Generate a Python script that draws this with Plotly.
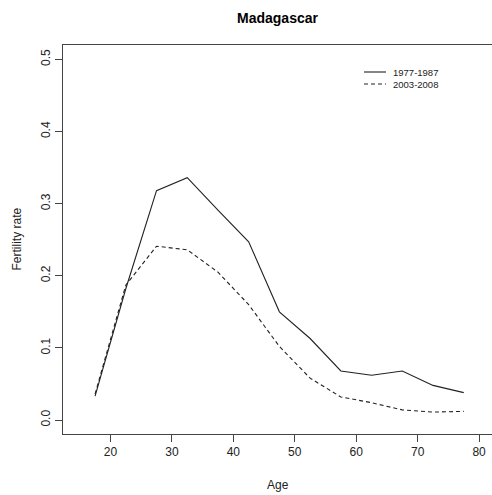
import plotly.graph_objects as go

ages = [17.5, 22.5, 27.5, 32.5, 37.5, 42.5, 47.5, 52.5, 57.5, 62.5, 67.5, 72.5, 77.5]
rate_1977_1987 = [0.033, 0.182, 0.318, 0.336, 0.291, 0.247, 0.150, 0.113, 0.068, 0.062, 0.068, 0.048, 0.038]
rate_2003_2008 = [0.036, 0.187, 0.241, 0.236, 0.205, 0.160, 0.102, 0.058, 0.032, 0.024, 0.014, 0.011, 0.012]
series_names = ["1977-1987", "2003-2008"]
x_ticks = [20, 30, 40, 50, 60, 70, 80]
y_ticks = [0.0, 0.1, 0.2, 0.3, 0.4, 0.5]

FONT = "Arial, Liberation Sans, sans-serif"
INK = "#222222"
dashes = ["solid", "4px,3px"]

fig = go.Figure()
for name, vals, d in zip(series_names, [rate_1977_1987, rate_2003_2008], dashes):
    fig.add_trace(go.Scatter(x=ages, y=vals, mode="lines", name=name,
                             line=dict(color=INK, width=1.1, dash=d), showlegend=False))

W, H = 492, 495
L, R, T, B = 63, 0, 45, 61
PW, PH = W - L - R, H - T - B

def px_x(p):
    return (p - L) / PW

def px_y(p):
    return (H - B - p) / PH

fig.update_layout(
    width=W, height=H,
    margin=dict(l=L, r=R, t=T, b=B, autoexpand=False),
    paper_bgcolor="white", plot_bgcolor="white",
    font=dict(family=FONT, color=INK, size=12),
    showlegend=False,
    title=dict(text="<b>Madagascar</b>", x=(L + PW / 2) / W, xanchor="center",
               y=1 - 18 / H, yanchor="middle", font=dict(size=14, family=FONT, color="black")),
)
fig.update_xaxes(range=[12.28, 82.1], tickvals=x_ticks, ticktext=[str(v) for v in x_ticks],
                 showgrid=False, zeroline=False, showline=True, mirror=True,
                 linecolor="#444444", linewidth=1, ticks="outside", ticklen=7,
                 tickcolor="#444444", tickfont=dict(size=12, family=FONT, color=INK))
fig.update_yaxes(range=[-0.0194, 0.52], tickvals=y_ticks, ticktext=[f"{v:.1f}" for v in y_ticks],
                 showgrid=False, zeroline=False, showline=True, mirror=False,
                 linecolor="#444444", linewidth=1, ticks="outside", ticklen=7,
                 tickcolor="#444444", tickangle=-90,
                 tickfont=dict(size=12, family=FONT, color=INK))

# legend (drawn like R's legend box without border)
for i, (name, d) in enumerate(zip(series_names, dashes)):
    yy = 72 + 12 * i
    fig.add_shape(type="line", xref="paper", yref="paper",
                  x0=px_x(364), x1=px_x(386), y0=px_y(yy), y1=px_y(yy),
                  line=dict(color=INK, width=1.1, dash=d))
    fig.add_annotation(text=name, xref="paper", yref="paper", x=px_x(391), y=px_y(yy),
                       xanchor="left", yanchor="middle", showarrow=False,
                       font=dict(size=9.5, family=FONT, color=INK))

fig.add_annotation(text="Age", xref="paper", yref="paper", x=0.5, y=0, yshift=-51,
                   showarrow=False, font=dict(size=12, family=FONT, color=INK),
                   xanchor="center", yanchor="middle")
fig.add_annotation(text="Fertility rate", xref="paper", yref="paper", x=0, y=0.5,
                   xshift=-47, textangle=-90, showarrow=False,
                   font=dict(size=12, family=FONT, color=INK),
                   xanchor="center", yanchor="middle")

fig.write_html("out.html", config={"displayModeBar": False},
               post_script="document.body.style.margin='0';document.body.style.overflow='hidden';")
